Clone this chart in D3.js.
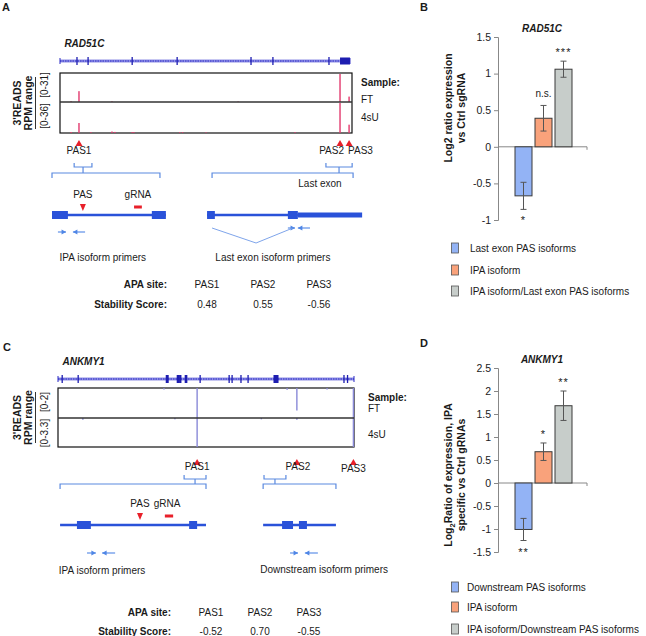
<!DOCTYPE html>
<html>
<head>
<meta charset="utf-8">
<script src="https://cdn.jsdelivr.net/npm/d3@7"></script>
<style>
  body { margin: 0; background: #fff; }
  text { font-family: 'Liberation Sans', Arial, sans-serif; fill: #1a1a1a; }
</style>
</head>
<body>
<script>
const width = 646;
const height = 636;

// ---------- genome browser data (positions in % of the IGV window) ----------
const radExons = [[5.8, 5.8], [9.6, 9.6], [24.7, 24.7], [40.1, 40.1], [65.4, 65.4], [72.9, 72.9], [92.1, 92.1]];
const radLastExon = [95.9, 99.3];
const radSpan = [0, 99.3];
const radFT = [[3.8, 0.8], [6.5, 12], [17.8, 0.7], [61, 0.5], [95.9, 31], [99, 6]];
const rad4sU = [[3.8, 1.2], [6.5, 12], [10.6, 0.9], [17.8, 1.8], [18.8, 1.3], [24.7, 1], [25.3, 1], [41, 0.9], [42, 0.9], [50, 0.7], [80.5, 0.9], [95.9, 36], [99, 10]];
const radPAS = ['PAS1', 'PAS2', 'PAS3'];
const radPASPos = [6.5, 95.9, 99];

const ankExons = [[1.4, 1.4], [6.8, 6.8], [36.6, 37.2], [40.3, 40.7], [41.1, 41.5], [43, 43.5], [48, 48], [57.8, 57.8], [58.8, 58.8], [61.8, 61.8], [64.2, 64.2], [73, 74.3], [96.6, 96.6], [97.8, 97.8]];
const ankSpan = [0, 100];
const ankFT = [[35.8, 0.1], [47, 2], [77.4, 0.12], [80.7, 1.5], [90.9, 0.1], [99.8, 2]];
const ank4sU = [[8.4, 0.2], [39.5, 0.15], [47, 3.3], [68.7, 0.15], [80.7, 0.2], [99.8, 3.3]];
const ankPAS = ['PAS1', 'PAS2', 'PAS3'];
const ankPASPos = [47, 80.7, 99.8];

// ---------- schematic isoform models (% of schematic width) ----------
const radModels = [
  { line: [0, 36.5], exons: [[0, 5.1], [32, 36.5]], utr: null },
  { line: [49.7, 78.8], exons: [[49.7, 52.2], [75.6, 78.8]], utr: [78.8, 99.4] },
];
const radBrackets = [{ small: [7.1, 12.8], big: [0, 34.6] }, { small: [87.8, 96.2], big: [51.3, 96.5] }];
const radPrimers = [[1.9, 4.5, 1, 0], [6.7, 10.6, -1, 0], [75.6, 77.9, 1, 1], [78.8, 82.7, -1, 1]];
const radSplice = [51.3, 65.4, 77.2];
const radMarks = { pas: 9.9, grna: [26.3, 28.8] };

const ankModels = [
  { line: [0.7, 50], exons: [[6.4, 11.1], [44.3, 47]], utr: null },
  { line: [69.3, 93.9], exons: [[75.7, 79.4], [81.4, 84.1]], utr: null },
];
const ankBrackets = [{ small: [42.6, 50], big: [0.7, 50] }, { small: [69.6, 77], big: [69.3, 93.9] }];
const ankPrimers = [[9.8, 12.8, 1, 0], [14.9, 19.3, -1, 0], [78.4, 81.1, 1, 0], [83.4, 87.8, -1, 0]];
const ankMarks = { pas: 27.7, grna: [36.1, 38.9] };

// ---------- stability table ----------
const apaSites = ['PAS1', 'PAS2', 'PAS3'];
const radStability = [0.48, 0.55, -0.56];
const ankStability = [-0.52, 0.70, -0.55];

// ---------- bar charts ----------
const radGroups = ['Last exon PAS isoforms', 'IPA isoform', 'IPA isoform/Last exon PAS isoforms'];
const radValues = [-0.67, 0.39, 1.06];
const radErrors = [0.185, 0.175, 0.11];
const radSig = ['*', 'n.s.', '***'];
const radTicks = [-1, -0.5, 0, 0.5, 1, 1.5];

const ankGroups = ['Downstream PAS isoforms', 'IPA isoform', 'IPA isoform/Downstream PAS isoforms'];
const ankValues = [-1.01, 0.68, 1.68];
const ankErrors = [0.24, 0.19, 0.32];
const ankSig = ['**', '*', '**'];
const ankTicks = [-1.5, -1, -0.5, 0, 0.5, 1, 1.5, 2, 2.5];

const barColors = ['#93b3f5', '#f9a27b', '#c7cdca'];

const svg = d3.select('body').append('svg')
  .attr('width', width)
  .attr('height', height);

function txt(g, x, y, s, opts = {}) {
  return g.append('text')
    .attr('x', x).attr('y', y)
    .attr('font-size', opts.size || 10)
    .attr('font-weight', opts.bold ? 'bold' : null)
    .attr('font-style', opts.italic ? 'italic' : null)
    .attr('text-anchor', opts.anchor || 'start')
    .text(s);
}

function tri(x, y, w, h, down) {
  const d = down ? h : -h;
  return `M${x},${y}L${x - w / 2},${y - d}L${x + w / 2},${y - d}Z`;
}

// ================= genome track panel =================
function drawTrack(cfg) {
  const g = svg.append('g');
  const x = d3.scaleLinear().domain([0, 100]).range(cfg.xRange);

  txt(g, cfg.letter[0], cfg.letter[1], cfg.letter[2], { size: 11, bold: true });
  txt(g, x(1.5), cfg.geneY - 14, cfg.gene, { bold: true, italic: true });

  // gene line
  g.append('line')
    .attr('x1', x(cfg.span[0])).attr('x2', x(cfg.span[1]))
    .attr('y1', cfg.geneY).attr('y2', cfg.geneY)
    .attr('stroke', '#8f8fe6').attr('stroke-width', 3);
  g.append('line')
    .attr('x1', x(cfg.span[0])).attr('x2', x(cfg.span[1]))
    .attr('y1', cfg.geneY).attr('y2', cfg.geneY)
    .attr('stroke', '#2a2ac4').attr('stroke-width', 1.2)
    .attr('stroke-dasharray', '1.5,1');
  g.selectAll('.end').data(cfg.span).enter().append('line')
    .attr('x1', (d) => x(d)).attr('x2', (d) => x(d))
    .attr('y1', cfg.geneY - 3).attr('y2', cfg.geneY + 3)
    .attr('stroke', '#2a2ac4');
  g.selectAll('.exon').data(cfg.exons).enter().append('rect')
    .attr('x', (d) => x(d[0]) - 0.6)
    .attr('width', (d) => Math.max(1.3, x(d[1]) - x(d[0]) + 1.2))
    .attr('y', cfg.geneY - 4).attr('height', 8)
    .attr('fill', '#1d1db0');
  if (cfg.lastExon) {
    g.append('rect')
      .attr('x', x(cfg.lastExon[0])).attr('width', x(cfg.lastExon[1]) - x(cfg.lastExon[0]))
      .attr('y', cfg.geneY - 3.5).attr('height', 7)
      .attr('fill', '#1d1db0');
  }

  // track box
  const [top, mid, bot] = cfg.boxY;
  g.append('rect')
    .attr('x', x(0)).attr('y', top)
    .attr('width', x(100) - x(0)).attr('height', bot - top)
    .attr('fill', 'none').attr('stroke', '#111').attr('stroke-width', 1.2);

  const yFT = d3.scaleLinear().domain([0, cfg.ftMax]).range(cfg.hang ? [top, mid] : [mid, top + 1]);
  const y4 = d3.scaleLinear().domain([0, cfg.suMax]).range(cfg.hang ? [mid, bot] : [bot, mid + 1]);
  [[cfg.ft, yFT], [cfg.su, y4]].forEach(([data, y]) => {
    g.append('g').selectAll('rect').data(data).enter().append('rect')
      .attr('x', (d) => x(d[0]) - 0.7)
      .attr('width', 1.4)
      .attr('y', (d) => Math.min(y(0), y(d[1])))
      .attr('height', (d) => Math.abs(y(d[1]) - y(0)))
      .attr('fill', cfg.peakColor);
  });
  g.append('line')
    .attr('x1', x(0)).attr('x2', x(100))
    .attr('y1', mid).attr('y2', mid)
    .attr('stroke', '#333').attr('stroke-width', 1.5);

  // left labels
  const lab = g.append('text')
    .attr('transform', `translate(20.5,${(top + bot) / 2}) rotate(-90)`)
    .attr('text-anchor', 'middle').attr('font-size', 10.5).attr('font-weight', 'bold');
  lab.append('tspan').attr('x', 0).attr('dy', 0).text("3'READS");
  lab.append('tspan').attr('x', 0).attr('dy', 11).text('RPM range');
  g.append('line')
    .attr('x1', 35.5).attr('x2', 35.5)
    .attr('y1', top + 4).attr('y2', bot - 4)
    .attr('stroke', '#333');
  g.append('text')
    .attr('transform', `translate(48,${cfg.rangeY[0]}) rotate(-90)`)
    .attr('text-anchor', 'middle').attr('font-size', 10)
    .text(cfg.ranges[0]);
  g.append('text')
    .attr('transform', `translate(48,${cfg.rangeY[1]}) rotate(-90)`)
    .attr('text-anchor', 'middle').attr('font-size', 10)
    .text(cfg.ranges[1]);

  txt(g, cfg.sampleX, top + 13, 'Sample:', { bold: true });
  txt(g, cfg.sampleX, cfg.ftY, 'FT');
  txt(g, cfg.sampleX, cfg.suY, '4sU');

  // PAS markers
  g.selectAll('.pas').data(cfg.pasPos).enter().append('path')
    .attr('d', (d) => tri(x(d), cfg.triY, 7, 6, false))
    .attr('fill', '#e8202a');
  g.selectAll('.pasl').data(cfg.pas).enter().append('text')
    .attr('x', (d, i) => x(cfg.pasPos[i]) + cfg.pasDx[i])
    .attr('y', (d, i) => cfg.pasLabY[i])
    .attr('text-anchor', (d, i) => cfg.pasAnchor[i])
    .attr('font-size', 10)
    .text((d) => d);
}

// ================= schematic models =================
function drawSchematic(cfg) {
  const g = svg.append('g');
  const s = d3.scaleLinear().domain([0, 100]).range(cfg.range);
  const bc = '#5b8ae0';

  cfg.brackets.forEach((b) => {
    const [y0, y1, y2, y3] = cfg.bracketY;
    const cx = s((b.small[0] + b.small[1]) / 2);
    const p = d3.path();
    p.moveTo(s(b.small[0]), y0); p.lineTo(s(b.small[0]), y1);
    p.lineTo(s(b.small[1]), y1); p.lineTo(s(b.small[1]), y0);
    p.moveTo(cx, y1); p.lineTo(cx, y2);
    p.moveTo(s(b.big[0]), y3); p.lineTo(s(b.big[0]), y2);
    p.lineTo(s(b.big[1]), y2); p.lineTo(s(b.big[1]), y3);
    g.append('path').attr('d', p.toString()).attr('fill', 'none').attr('stroke', bc).attr('stroke-width', 1.2);
  });

  cfg.models.forEach((m) => {
    g.append('line')
      .attr('x1', s(m.line[0])).attr('x2', s(m.line[1]))
      .attr('y1', cfg.modelY).attr('y2', cfg.modelY)
      .attr('stroke', '#2a52d9').attr('stroke-width', 2.5);
    g.selectAll(null).data(m.exons).enter().append('rect')
      .attr('x', (d) => s(d[0])).attr('width', (d) => s(d[1]) - s(d[0]))
      .attr('y', cfg.modelY - 4).attr('height', 8)
      .attr('fill', '#2a52d9');
    if (m.utr) {
      g.append('rect')
        .attr('x', s(m.utr[0])).attr('width', s(m.utr[1]) - s(m.utr[0]))
        .attr('y', cfg.modelY - 2.5).attr('height', 5)
        .attr('fill', '#2a52d9');
    }
  });

  // PAS and gRNA marks
  txt(g, s(cfg.marks.pas), cfg.markLabY, 'PAS', { anchor: 'middle' });
  txt(g, s((cfg.marks.grna[0] + cfg.marks.grna[1]) / 2) + cfg.grnaDx, cfg.markLabY, 'gRNA', { anchor: 'middle' });
  g.append('path')
    .attr('d', tri(s(cfg.marks.pas), cfg.markY + 4, 6, 7, true))
    .attr('fill', '#e8202a');
  g.append('rect')
    .attr('x', s(cfg.marks.grna[0])).attr('width', s(cfg.marks.grna[1]) - s(cfg.marks.grna[0]))
    .attr('y', cfg.markY - 1.5).attr('height', 3)
    .attr('fill', '#e8202a');

  // primers
  cfg.primers.forEach((p) => {
    const y = cfg.primerY[p[3]];
    const head = p[2] > 0 ? s(p[1]) : s(p[0]);
    g.append('line')
      .attr('x1', s(p[0])).attr('x2', s(p[1]))
      .attr('y1', y).attr('y2', y)
      .attr('stroke', '#4f86e6').attr('stroke-width', 1.1);
    g.append('path')
      .attr('d', `M${head},${y}L${head - p[2] * 4.5},${y - 2.5}L${head - p[2] * 4.5},${y + 2.5}Z`)
      .attr('fill', '#4f86e6');
  });

  if (cfg.splice) {
    const [a, b, c] = cfg.splice;
    g.append('path')
      .attr('d', `M${s(a)},${cfg.primerY[1]}L${s(b)},${cfg.primerY[1] + 15}L${s(c)},${cfg.primerY[1]}`)
      .attr('fill', 'none').attr('stroke', '#6f9ae8').attr('stroke-width', 0.9);
  }

  cfg.labels.forEach((l) => txt(g, s(l[1]), l[2], l[0], { anchor: 'middle' }));
}

// ================= stability table =================
function drawTable(cfg) {
  const g = svg.append('g');
  const col = d3.scalePoint().domain(apaSites).range(cfg.cols);
  txt(g, cfg.labelX, cfg.rowY[0], 'APA site:', { bold: true, anchor: 'end' });
  txt(g, cfg.labelX, cfg.rowY[1], 'Stability Score:', { bold: true, anchor: 'end' });
  g.selectAll('.site').data(apaSites).enter().append('text')
    .attr('x', (d) => col(d)).attr('y', cfg.rowY[0])
    .attr('text-anchor', 'middle').attr('font-size', 10)
    .text((d) => d);
  g.selectAll('.score').data(cfg.scores).enter().append('text')
    .attr('x', (d, i) => col(apaSites[i])).attr('y', cfg.rowY[1])
    .attr('text-anchor', 'middle').attr('font-size', 10)
    .text((d) => d.toFixed(2));
}

// ================= bar chart =================
function drawBars(cfg) {
  const g = svg.append('g');
  const y = d3.scaleLinear().domain(cfg.domain).range(cfg.yRange);
  const x = d3.scaleBand().domain(cfg.groups).range([514, 573]).paddingInner(0.15).paddingOuter(0.05);
  const axisX = 498;

  txt(g, 420, cfg.letterY, cfg.letter, { size: 11, bold: true });
  txt(g, 542, cfg.titleY, cfg.title, { bold: true, italic: true, anchor: 'middle' });

  const yAxis = d3.axisLeft(y).tickValues(cfg.ticks).tickSize(4).tickPadding(3).tickFormat((d) => String(d));
  const ax = g.append('g').attr('transform', `translate(${axisX},0)`).call(yAxis);
  ax.select('.domain').attr('stroke', '#888');
  ax.selectAll('.tick line').attr('stroke', '#888');
  ax.selectAll('.tick text').attr('font-size', 10.5).attr('fill', '#1a1a1a')
    .attr('font-family', "'Liberation Sans', Arial, sans-serif");

  g.append('line')
    .attr('x1', axisX).attr('x2', 587)
    .attr('y1', y(0)).attr('y2', y(0))
    .attr('stroke', '#888');
  g.append('line')
    .attr('x1', 587).attr('x2', 587)
    .attr('y1', y(0)).attr('y2', y(0) + 3)
    .attr('stroke', '#888');

  g.selectAll('.bar').data(cfg.values).enter().append('rect')
    .attr('x', (d, i) => x(cfg.groups[i]))
    .attr('width', x.bandwidth())
    .attr('y', (d) => Math.min(y(0), y(d)))
    .attr('height', (d) => Math.abs(y(d) - y(0)))
    .attr('fill', (d, i) => barColors[i])
    .attr('stroke', '#3a3a3a').attr('stroke-width', 1);

  cfg.values.forEach((v, i) => {
    const cx = x(cfg.groups[i]) + x.bandwidth() / 2;
    const e = cfg.errors[i];
    const p = d3.path();
    p.moveTo(cx, y(v + e)); p.lineTo(cx, y(v - e));
    p.moveTo(cx - 3, y(v + e)); p.lineTo(cx + 3, y(v + e));
    p.moveTo(cx - 3, y(v - e)); p.lineTo(cx + 3, y(v - e));
    g.append('path').attr('d', p.toString()).attr('stroke', '#555').attr('stroke-width', 1).attr('fill', 'none');
    const ly = v >= 0 ? y(v + e) - (cfg.sig[i] === 'n.s.' ? 8 : 5) : y(v - e) + 15;
    txt(g, cx, ly, cfg.sig[i], { anchor: 'middle', size: cfg.sig[i] === 'n.s.' ? 10 : 11 })
      .attr('letter-spacing', cfg.sig[i].startsWith('*') ? 1 : null);
  });

  // y title
  const t = g.append('text')
    .attr('transform', `translate(452,${cfg.labelY}) rotate(-90)`)
    .attr('text-anchor', 'middle').attr('font-size', 10.5).attr('font-weight', 'bold');
  cfg.yLabel[0].forEach((part) => {
    t.append('tspan')
      .attr('font-size', part.sub ? 7.5 : null)
      .attr('dy', part.dy || 0)
      .text(part.s);
  });
  g.append('text')
    .attr('transform', `translate(465,${cfg.labelY}) rotate(-90)`)
    .attr('text-anchor', 'middle').attr('font-size', 10.5).attr('font-weight', 'bold')
    .text(cfg.yLabel[1]);

  // legend
  const lg = g.selectAll('.leg').data(cfg.groups).enter().append('g')
    .attr('transform', (d, i) => `translate(451,${cfg.legendY[i]})`);
  lg.append('rect')
    .attr('x', 0.5).attr('y', -5).attr('width', 7).attr('height', 10)
    .attr('fill', (d, i) => barColors[i])
    .attr('stroke', '#555').attr('stroke-width', 0.8);
  lg.append('text')
    .attr('x', cfg.legendDx).attr('y', 4)
    .attr('font-size', 10)
    .text((d) => d);
}

// ----- panel A -----
drawTrack({
  letter: [2, 11, 'A'], gene: 'RAD51C', geneY: 61, xRange: [60, 352],
  span: radSpan, exons: radExons, lastExon: radLastExon,
  boxY: [73, 102, 133], hang: false, ftMax: 31, suMax: 36,
  ft: radFT, su: rad4sU, peakColor: '#e23a6e',
  ranges: ['[0-31]', '[0-36]'], rangeY: [85, 116],
  sampleX: 361, ftY: 103, suY: 121,
  pas: radPAS, pasPos: radPASPos, triY: 140,
  pasDx: [0, 4, -1], pasAnchor: ['middle', 'end', 'start'], pasLabY: [154, 154, 154],
});
drawSchematic({
  range: [52, 364], brackets: radBrackets, bracketY: [163, 167, 173, 178],
  models: radModels, modelY: 215, marks: radMarks, markY: 207, markLabY: 198, grnaDx: 0,
  primers: radPrimers, primerY: [232, 228], splice: radSplice,
  labels: [['IPA isoform primers', 16.3, 261], ['Last exon isoform primers', 70.8, 261], ['Last exon', 85.9, 187]],
});
drawTable({ labelX: 167, cols: [207, 319], rowY: [288, 308], scores: radStability });

// ----- panel C -----
drawTrack({
  letter: [3, 351, 'C'], gene: 'ANKMY1', geneY: 379, xRange: [58, 354],
  span: ankSpan, exons: ankExons, lastExon: null,
  boxY: [388, 418, 447], hang: true, ftMax: 2, suMax: 3.3,
  ft: ankFT, su: ank4sU, peakColor: '#8a8ad8',
  ranges: ['[0-2]', '[0-3.3]'], rangeY: [402, 433],
  sampleX: 368, ftY: 412, suY: 438,
  pas: ankPAS, pasPos: ankPASPos, triY: 459,
  pasDx: [0, 1, 0], pasAnchor: ['middle', 'middle', 'middle'], pasLabY: [470, 470, 472],
});
drawSchematic({
  range: [58, 354], brackets: ankBrackets, bracketY: [475, 479, 484, 489],
  models: ankModels, modelY: 525, marks: ankMarks, markY: 516, markLabY: 507, grnaDx: -2,
  primers: ankPrimers, primerY: [553, 553], splice: null,
  labels: [['IPA isoform primers', 14.9, 574], ['Downstream isoform primers', 89.9, 573]],
});
drawTable({ labelX: 171, cols: [211, 309], rowY: [616, 635], scores: ankStability });

// ----- panel B -----
drawBars({
  letter: 'B', letterY: 11, title: 'RAD51C', titleY: 32,
  domain: [-1, 1.5], yRange: [220, 37], ticks: radTicks,
  groups: radGroups, values: radValues, errors: radErrors, sig: radSig,
  yLabel: [[{ s: 'Log2 ratio expression' }], 'vs Ctrl sgRNA'], labelY: 108,
  legendY: [248, 270, 291], legendDx: 19,
});

// ----- panel D -----
drawBars({
  letter: 'D', letterY: 347, title: 'ANKMY1', titleY: 363,
  domain: [-1.5, 2.5], yRange: [552, 368], ticks: ankTicks,
  groups: ankGroups, values: ankValues, errors: ankErrors, sig: ankSig,
  yLabel: [[{ s: 'Log' }, { s: '2', sub: true, dy: 3 }, { s: 'Ratio of expression, IPA', dy: -3 }], 'specific vs Ctrl gRNAs'],
  labelY: 475,
  legendY: [587, 607, 629], legendDx: 16,
});
</script>
</body>
</html>
